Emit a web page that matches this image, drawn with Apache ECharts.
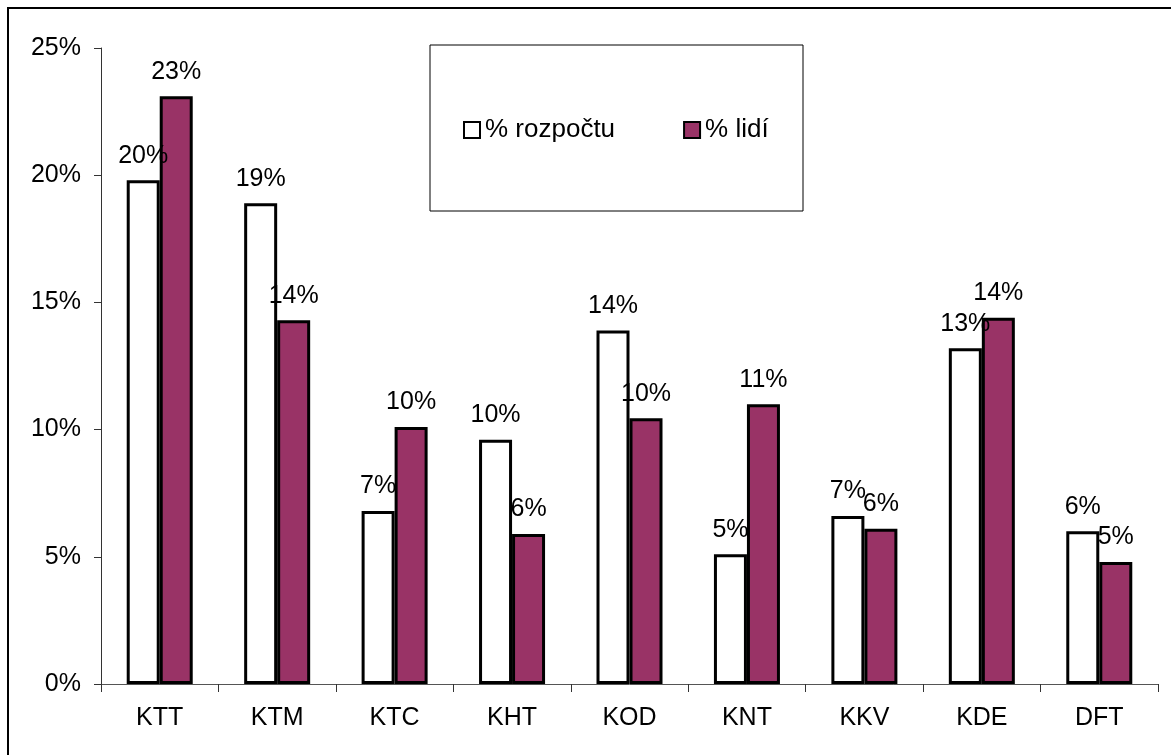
<!DOCTYPE html>
<html>
<head>
<meta charset="utf-8">
<script src="https://cdn.jsdelivr.net/npm/echarts@6/dist/echarts.min.js"></script>
<style>
  html, body { margin: 0; padding: 0; background: #fff; }
  #chart { width: 1171px; height: 755px; }
</style>
</head>
<body>
<div id="chart"></div>
<script>
// kategorie (katedry)
var categories = ['KTT', 'KTM', 'KTC', 'KHT', 'KOD', 'KNT', 'KKV', 'KDE', 'DFT']
// hodnoty v procentech
var rozpocet = [19.8, 18.9, 6.8, 9.6, 13.9, 5.1, 6.6, 13.2, 6.0]
var lide = [23.1, 14.3, 10.1, 5.9, 10.45, 11.0, 6.1, 14.4, 4.8]
var yTicks = [0, 5, 10, 15, 20, 25]

var font = 'Liberation Sans, Arial, sans-serif'
var fs = 25

var labelCfg = {
  show: true,
  position: 'top',
  distance: 12,
  color: '#000',
  fontFamily: font,
  fontSize: fs,
  formatter: function(p) {
    return Math.round(p.value) + '%'
  }
}

var option = {
  animation: false,
  backgroundColor: '#fff',
  textStyle: { fontFamily: font },
  grid: {
    left: 101,
    right: 13,
    top: 48,
    bottom: 71
  },
  graphic: [
    {
      type: 'rect',
      shape: { x: 8, y: 8, width: 1300, height: 900 },
      style: { fill: 'none', stroke: '#000', lineWidth: 2 },
      silent: true
    },
    {
      type: 'rect',
      shape: { x: 430, y: 45, width: 373, height: 166 },
      style: { fill: '#fff', stroke: '#000', lineWidth: 1 },
      silent: true,
      z: 5
    }
  ],
  legend: {
    left: 463,
    top: 117,
    z: 10,
    icon: 'rect',
    itemWidth: 16,
    itemHeight: 16,
    itemGap: 68,
    padding: 0,
    textStyle: {
      color: '#000',
      fontFamily: font,
      fontSize: 26
    },
    data: ['% rozpočtu', '% lidí']
  },
  xAxis: {
    type: 'category',
    data: categories,
    axisLine: { lineStyle: { color: '#555', width: 1 } },
    axisTick: { show: true, length: 8, lineStyle: { color: '#333' } },
    axisLabel: {
      color: '#000',
      fontFamily: font,
      fontSize: fs,
      margin: 22
    }
  },
  yAxis: {
    type: 'value',
    min: yTicks[0],
    max: yTicks[yTicks.length - 1],
    interval: 5,
    axisLine: { show: true, lineStyle: { color: '#333', width: 1 } },
    axisTick: { show: true, length: 7, lineStyle: { color: '#333' } },
    splitLine: { show: false },
    axisLabel: {
      color: '#000',
      fontFamily: font,
      fontSize: fs,
      margin: 20,
      formatter: '{value}%'
    }
  },
  series: [
    {
      name: '% rozpočtu',
      type: 'bar',
      data: rozpocet,
      barWidth: 33,
      barGap: '0%',
      itemStyle: { color: '#fff', borderColor: '#000', borderWidth: 3 },
      label: labelCfg
    },
    {
      name: '% lidí',
      type: 'bar',
      data: lide,
      barWidth: 33,
      barGap: '0%',
      itemStyle: { color: '#993366', borderColor: '#000', borderWidth: 3 },
      label: labelCfg
    }
  ]
}

var myChart = echarts.init(document.getElementById('chart'))
myChart.setOption(option)
</script>
</body>
</html>
